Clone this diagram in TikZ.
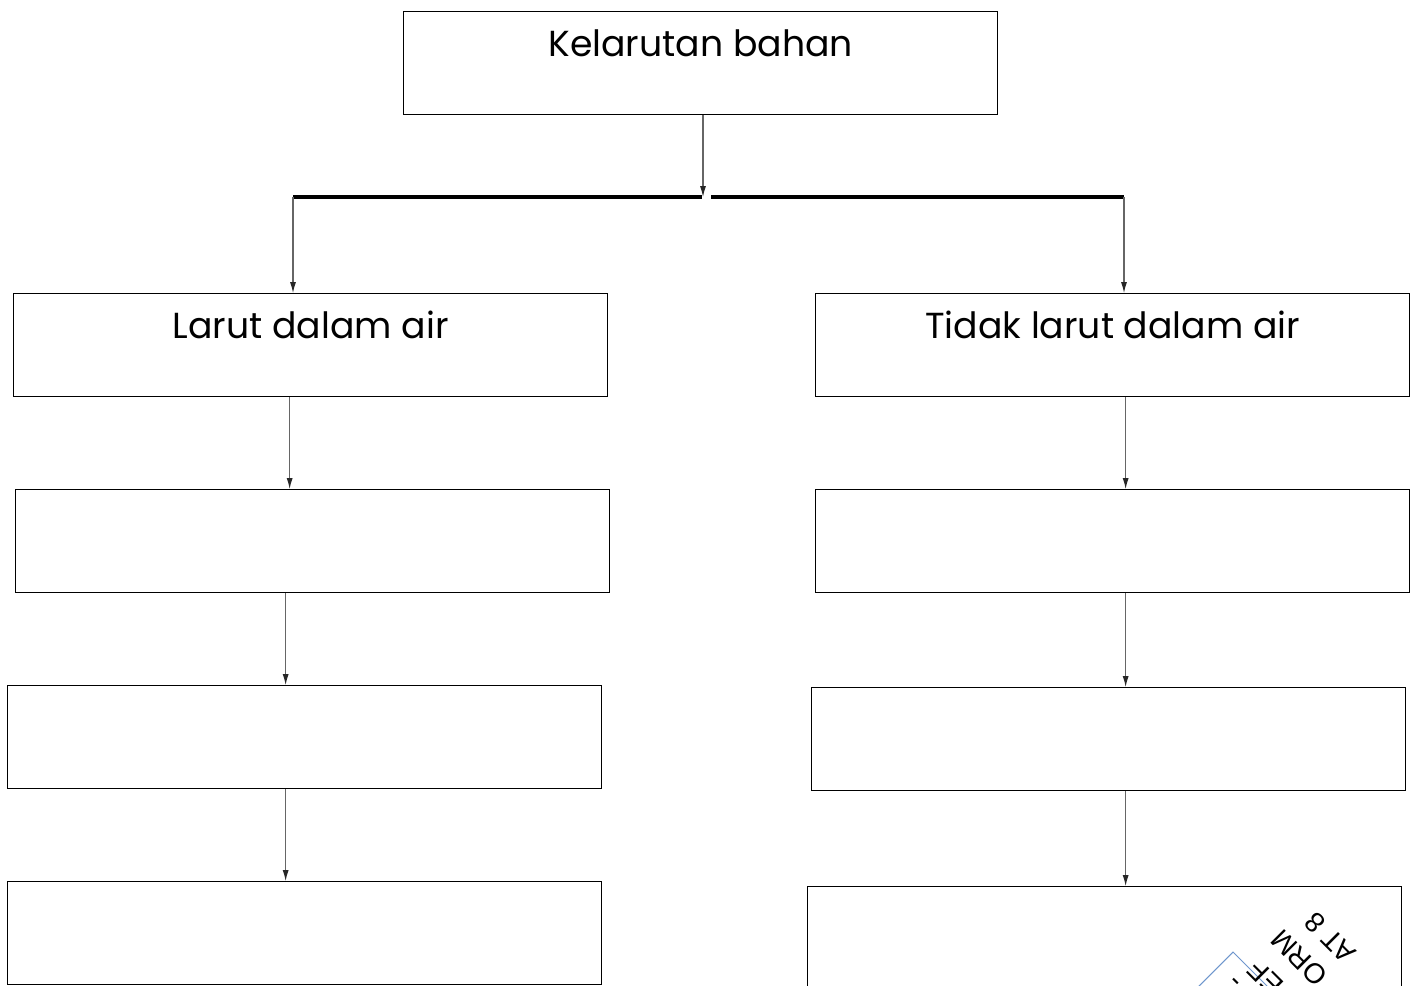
\documentclass[tikz,border=0pt]{standalone}
\usepackage{fontspec}
\setmainfont{Poppins}
\newfontfamily\stempelfont{Liberation Sans}
\usetikzlibrary{arrows.meta}

\definecolor{biru}{RGB}{110,150,205}

\tikzset{
  kotak/.style={draw=black, line width=0.8pt, anchor=north west, inner sep=0pt,
    minimum width=11.88cm, minimum height=2.06cm,
    text height=0.9cm, text depth=1.16cm, font=\fontsize{20.6}{25}\selectfont},
  panah/.style={draw=black!60, line width=0.6pt, -{Latex[length=0.22cm,width=0.12cm,color=black!85]}},
  garis/.style={line width=2pt},
  stempel/.style={font=\stempelfont\fontsize{16}{19}\selectfont, rotate=135, anchor=mid east, inner sep=0pt},
}

\begin{document}
\begin{tikzpicture}[x=0.02cm, y=-0.02cm]
    \useasboundingbox (0,0) rectangle (1413,985);
    \clip (0,0) rectangle (1413,985);
    \fill[white] (0,0) rectangle (1413,985);

    \node[kotak] (kelarutan) at (403,11) {Kelarutan bahan};
    \node[kotak] (larut) at (13,293) {Larut dalam air};
    \node[kotak] (tidak) at (815,293) {Tidak larut dalam air};
    \node[kotak] (kiri2) at (15,489) {};
    \node[kotak] (kiri3) at (7,685) {};
    \node[kotak] (kiri4) at (7,881) {};
    \node[kotak] (kanan2) at (815,489) {};
    \node[kotak] (kanan3) at (811,687) {};
    \node[kotak] (kanan4) at (807,886) {};

    \coordinate (cabang) at (703,197);
    \coordinate (kiri) at (293,197);
    \coordinate (kanan) at (1124,197);
    \draw[garis] (kiri) -- ([xshift=-0.02cm]cabang);
    \draw[garis] ([xshift=0.16cm]cabang) -- (kanan);
    \draw[panah] (kelarutan.south -| cabang) -- (cabang);
    \draw[panah] (kiri) -- (kiri |- larut.north);
    \draw[panah] (kanan) -- (kanan |- tidak.north);

    \foreach \a/\b/\s in {larut/kiri2/-0.42, kiri2/kiri3/-0.54, kiri3/kiri4/-0.38,
                          tidak/kanan2/0.26, kanan2/kanan3/0.26, kanan3/kanan4/0.34}
        \draw[panah] ([xshift=\s cm]\a.south) -- ([xshift=\s cm]\a.south |- \b.north);

    % stempel di pojok
    \draw[biru, line width=0.6pt] (1190,995) -- (1233,952) -- (1276,995);
    \node[stempel] (baris1) at (1313,914) {AT 8};
    \node[stempel] (baris2) at (1279,931) {ORM};
    \node[stempel] (baris3) at (1256,961) {EF};
    \node[stempel] (baris4) at (1234,976) {-};
\end{tikzpicture}
\end{document}
